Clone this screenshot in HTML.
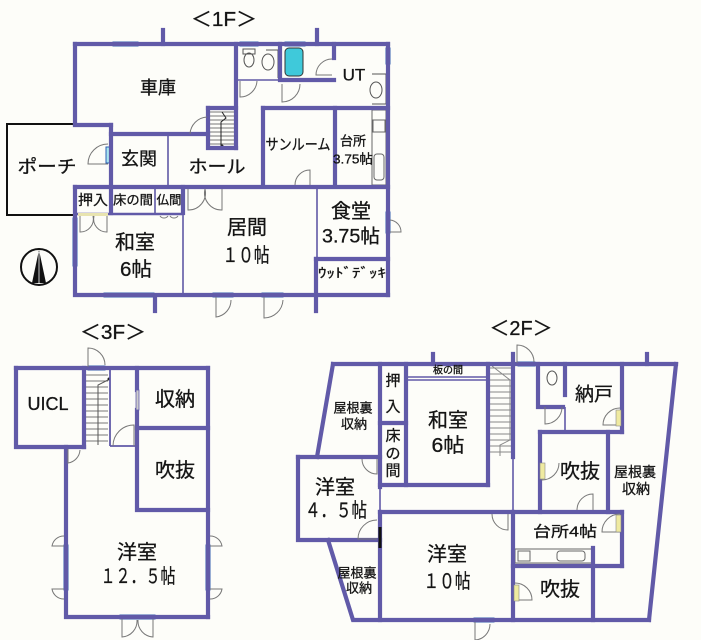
<!DOCTYPE html>
<html><head><meta charset="utf-8"><style>
html,body{margin:0;padding:0;background:#fdfdf9;}
svg{display:block;}
text{font-family:"Liberation Sans","Noto Sans CJK JP",sans-serif;fill:#151515;stroke:#151515;stroke-width:0.3;}
</style></head><body>
<svg width="701" height="640" viewBox="0 0 701 640" xmlns="http://www.w3.org/2000/svg">
<rect width="701" height="640" fill="#fdfdf9"/>

<!-- ========== 1F ========== -->
<path d="M73,124 H7 V215 H75" fill="none" stroke="#111" stroke-width="2"/>

<g fill="#a9e4ef" stroke="#2b5fb2" stroke-width="1">
<rect x="113" y="42" width="25" height="4"/>
<rect x="240" y="42" width="18" height="4"/>
<rect x="285" y="42" width="20" height="4"/>
<rect x="386" y="48" width="4" height="16"/>
<rect x="106" y="147" width="4" height="16"/>
<rect x="104" y="293" width="50" height="4"/>
<rect x="213" y="293" width="20" height="4"/>
<rect x="262" y="293" width="21" height="4"/>
<rect x="73" y="218" width="4" height="48"/>
<rect x="386" y="212" width="4" height="21"/>
</g>

<g stroke="#777" stroke-width="1">
<path d="M210,112 H234 M210,116 H234 M210,120 H234 M210,124 H234 M210,128 H234 M210,132 H234 M210,136 H234 M210,140 H234 M210,144 H234"/>
</g>
<path d="M222,112 L226,118 L221,122 V146" fill="none" stroke="#222" stroke-width="1"/>
<circle cx="222" cy="146" r="1.5" fill="#222"/>

<rect x="285" y="48" width="18" height="28" rx="4" fill="#3fc9da" stroke="#333" stroke-width="1"/>
<ellipse cx="249" cy="60" rx="5" ry="7" fill="none" stroke="#555" stroke-width="1"/>
<rect x="243" y="49" width="12" height="5" fill="none" stroke="#555" stroke-width="1"/>
<ellipse cx="268" cy="62" rx="6" ry="8" fill="none" stroke="#555" stroke-width="1"/>
<path d="M266,50 H278 V78" fill="none" stroke="#555" stroke-width="1"/>
<ellipse cx="376" cy="90" rx="6" ry="8" fill="none" stroke="#555" stroke-width="1"/>
<path d="M372,74 H386 V104 H372" fill="none" stroke="#555" stroke-width="1"/>
<rect x="372" y="110" width="14" height="75" fill="none" stroke="#666" stroke-width="1"/>
<rect x="373" y="120" width="12" height="12" fill="none" stroke="#666" stroke-width="1"/>
<rect x="374" y="154" width="10" height="26" rx="3" fill="none" stroke="#666" stroke-width="1"/>

<g stroke="#605aa6" stroke-width="1.6" fill="none">
<path d="M168,134 V187"/>
<path d="M236,80 H280"/>
<path d="M155,189 V213"/>
<path d="M183,214 V294"/>
<path d="M317,189 V258"/>
</g>

<g stroke="#615aa8" stroke-width="4.2" stroke-linecap="square" fill="none">
<path d="M75,44 H388"/>
<path d="M75,44 V124"/>
<path d="M75,125 H111"/>
<path d="M111,125 V213"/>
<path d="M111,134 H208"/>
<path d="M208,108 V148 H236"/>
<path d="M208,108 H236"/>
<path d="M236,44 V148"/>
<path d="M280,44 V80 H334"/>
<path d="M334,44 V58"/>
<path d="M263,108 H388"/>
<path d="M263,108 V186"/>
<path d="M335,108 V186"/>
<path d="M388,44 V295"/>
<path d="M75,187 H388"/>
<path d="M75,187 V295 H388"/>
<path d="M183,187 V213"/>
<path d="M316,259 V311"/>
<path d="M316,259 H388"/>
<path d="M155,297 V311"/>
<path d="M163,30 V44"/>
<path d="M317,30 V44"/>
</g>
<path d="M77,214 H182" stroke="#615aa8" stroke-width="2.5"/>
<rect x="78" y="213" width="30" height="3" fill="#e8e4b0"/>

<g stroke="#777" stroke-width="1" fill="none">
<path d="M108,164 H88 A20,20 0 0 1 108,144"/>
<path d="M190,134 A18,18 0 0 1 207,117"/>
<path d="M240,81 V97 A17,17 0 0 0 257,81"/>
<path d="M282,84 V102 A18,18 0 0 0 300,84"/>
<path d="M332,59 A16,16 0 0 0 316,75 H332"/>
<path d="M295,185 A15,15 0 0 1 310,170 V185"/>
<path d="M188,189 V210 A17,17 0 0 0 205,189"/>
<path d="M222,189 V210 A17,17 0 0 1 205,189"/>
<path d="M80,216 V232 A13,13 0 0 0 93,216"/>
<path d="M107,216 V232 A13,13 0 0 1 94,216"/>
<path d="M160,216 A5,5 0 0 0 168,216 M170,216 A5,5 0 0 0 178,216"/>
<path d="M216,297 V317 A17,17 0 0 0 231,300"/>
<path d="M264,297 V318 A19,19 0 0 0 283,300"/>
<path d="M390,220 A12,12 0 0 1 401,232 H390"/>
</g>

<circle cx="39" cy="267" r="18" fill="none" stroke="#111" stroke-width="2"/>
<path d="M39,250 L32,283 L46,283 Z" fill="#111"/>
<path d="M39,252 V283" stroke="#fff" stroke-width="0.8"/>

<text x="224" y="20" font-size="20" text-anchor="middle" dominant-baseline="central" textLength="66" lengthAdjust="spacingAndGlyphs">＜1F＞</text>
<text x="158" y="88" font-size="18" text-anchor="middle" dominant-baseline="central">車庫</text>
<text x="47" y="167" font-size="18" text-anchor="middle" dominant-baseline="central" textLength="59" lengthAdjust="spacingAndGlyphs">ポーチ</text>
<text x="139" y="159" font-size="18" text-anchor="middle" dominant-baseline="central">玄関</text>
<text x="217" y="167" font-size="18" text-anchor="middle" dominant-baseline="central" textLength="57" lengthAdjust="spacingAndGlyphs">ホール</text>
<text x="298" y="145" font-size="15" text-anchor="middle" dominant-baseline="central" textLength="65" lengthAdjust="spacingAndGlyphs">サンルーム</text>
<text x="353" y="141" font-size="13" text-anchor="middle" dominant-baseline="central">台所</text>
<text x="353" y="159" font-size="13" text-anchor="middle" dominant-baseline="central" textLength="40" lengthAdjust="spacingAndGlyphs">3.75帖</text>
<text x="354" y="75" font-size="17" text-anchor="middle" dominant-baseline="central">UT</text>
<text x="93" y="200" font-size="14" text-anchor="middle" dominant-baseline="central" textLength="30" lengthAdjust="spacingAndGlyphs">押入</text>
<text x="133" y="200" font-size="13" text-anchor="middle" dominant-baseline="central" textLength="40" lengthAdjust="spacingAndGlyphs">床の間</text>
<text x="169" y="200" font-size="12" text-anchor="middle" dominant-baseline="central" textLength="25" lengthAdjust="spacingAndGlyphs">仏間</text>
<text x="135" y="243" font-size="20" text-anchor="middle" dominant-baseline="central">和室</text>
<text x="136" y="270" font-size="20" text-anchor="middle" dominant-baseline="central" textLength="32" lengthAdjust="spacingAndGlyphs">6帖</text>
<text x="247" y="228" font-size="20" text-anchor="middle" dominant-baseline="central">居間</text>
<text x="246" y="256" font-size="20" text-anchor="middle" dominant-baseline="central" textLength="47" lengthAdjust="spacingAndGlyphs">１０帖</text>
<text x="351" y="212" font-size="20" text-anchor="middle" dominant-baseline="central">食堂</text>
<text x="351" y="237" font-size="19" text-anchor="middle" dominant-baseline="central" textLength="58" lengthAdjust="spacingAndGlyphs">3.75帖</text>
<text x="352" y="273" font-size="13" text-anchor="middle" dominant-baseline="central" textLength="68" lengthAdjust="spacingAndGlyphs">ｳｯﾄﾞﾃﾞｯｷ</text>

<!-- ========== 3F ========== -->
<g fill="#a9e4ef" stroke="#2b5fb2" stroke-width="1">
<rect x="88" y="366" width="17" height="4"/>
<rect x="64" y="545" width="4" height="45"/>
<rect x="206" y="545" width="4" height="45"/>
<rect x="120" y="615" width="35" height="4"/>
</g>
<g stroke="#777" stroke-width="1">
<path d="M86,375 H108 M86,381 H108 M86,387 H108 M86,393 H108 M86,399 H108 M86,405 H108 M86,411 H108 M86,417 H108 M86,423 H108 M86,429 H108 M86,435 H108 M86,441 H108"/>
</g>
<path d="M108,380 L98,385 V445" fill="none" stroke="#555" stroke-width="1"/>
<circle cx="109" cy="379" r="1.5" fill="#222"/>
<g stroke="#615aa8" stroke-width="1.8" fill="none">
<path d="M110,370 V446"/>
<path d="M110,446 H137"/>
</g>
<g stroke="#615aa8" stroke-width="4.2" stroke-linecap="square" fill="none">
<path d="M16,368 H208"/>
<path d="M16,368 V447 H84"/>
<path d="M66,447 V617 H208"/>
<path d="M208,368 V617"/>
<path d="M84,368 V447"/>
<path d="M137,368 V390"/>
<path d="M137,410 V510 H208"/>
<path d="M137,428 H208"/>
</g>
<rect x="136" y="390" width="3" height="20" fill="#ccc" stroke="#615aa8" stroke-width="0.8"/>
<g stroke="#777" stroke-width="1" fill="none">
<path d="M88,367 V348 A17,17 0 0 1 105,365"/>
<path d="M68,449 V463 A14,14 0 0 0 80,450"/>
<path d="M113,446 A21,21 0 0 1 134,425 V446"/>
<path d="M64,546 H52 A12,12 0 0 1 64,536"/>
<path d="M64,589 H52 A12,12 0 0 0 64,599"/>
<path d="M210,546 H222 A12,12 0 0 0 210,536"/>
<path d="M210,589 H222 A12,12 0 0 1 210,599"/>
<path d="M122,619 V637 A16,16 0 0 0 137,620"/>
<path d="M153,619 V637 A16,16 0 0 1 138,620"/>
</g>
<text x="113" y="333" font-size="20" text-anchor="middle" dominant-baseline="central" textLength="66" lengthAdjust="spacingAndGlyphs">＜3F＞</text>
<text x="48" y="404" font-size="18" text-anchor="middle" dominant-baseline="central">UICL</text>
<text x="175" y="400" font-size="20" text-anchor="middle" dominant-baseline="central">収納</text>
<text x="175" y="471" font-size="20" text-anchor="middle" dominant-baseline="central">吹抜</text>
<text x="137" y="553" font-size="20" text-anchor="middle" dominant-baseline="central">洋室</text>
<text x="138" y="577" font-size="20" text-anchor="middle" dominant-baseline="central" textLength="75" lengthAdjust="spacingAndGlyphs">１２．５帖</text>

<!-- ========== 2F ========== -->
<g fill="#a9e4ef" stroke="#2b5fb2" stroke-width="1">
<rect x="518" y="362" width="17" height="4"/>
<rect x="474" y="618" width="20" height="4"/>
</g>
<path d="M494,620 H512 M518,620 H552" stroke="#2b5fb2" stroke-width="2"/>
<g stroke="#888" stroke-width="1">
<path d="M490,368 H511 M490,374 H511 M490,380 H511 M490,386 H511 M490,392 H511 M490,398 H511 M490,404 H511 M490,410 H511 M490,416 H511 M490,422 H511 M490,428 H511 M490,434 H511 M490,440 H511 M490,446 H511 M490,452 H511"/>
<path d="M492,366 L510,380 V440 L500,445 V456" fill="none"/>
</g>
<ellipse cx="552" cy="378" rx="5" ry="7" fill="none" stroke="#555" stroke-width="1"/>
<rect x="515" y="549" width="77" height="14" fill="none" stroke="#666" stroke-width="1"/>
<rect x="518" y="551" width="12" height="10" fill="none" stroke="#666" stroke-width="1"/>
<rect x="557" y="551" width="28" height="10" rx="3" fill="none" stroke="#666" stroke-width="1"/>

<g stroke="#615aa8" stroke-width="1.6" fill="none">
<path d="M407,377 H487 M407,380 H487"/>
<path d="M380,487 V510"/>
<path d="M513,457 V512"/>
<path d="M565,407 V432"/>
<path d="M407,485 H487"/>
</g>
<g stroke="#615aa8" stroke-width="4.2" stroke-linecap="square" fill="none">
<path d="M333,364 H676"/>
<path d="M333,364 L317,457"/>
<path d="M298,457 H380"/>
<path d="M298,457 V540 H380"/>
<path d="M328,540 L353,620 H649"/>
<path d="M676,364 L649,620"/>
<path d="M380,364 V487"/>
<path d="M380,512 V620"/>
<path d="M406,364 V485"/>
<path d="M380,423 H406"/>
<path d="M380,485 H488"/>
<path d="M488,364 V485"/>
<path d="M513,354 V457"/>
<path d="M513,512 V620"/>
<path d="M380,512 H622"/>
<path d="M538,364 V407 H563"/>
<path d="M565,364 V395"/>
<path d="M540,432 H622"/>
<path d="M540,432 V512"/>
<path d="M622,364 V432"/>
<path d="M608,432 V512"/>
<path d="M622,512 V566"/>
<path d="M513,566 H622"/>
<path d="M593,548 V620"/>
<path d="M433,354 V364"/>
<path d="M647,354 V364"/>
</g>
<path d="M380,527 V548" stroke="#111" stroke-width="3"/>
<g stroke="#777" stroke-width="1" fill="none">
<path d="M377,459 V474 A15,15 0 0 1 362,459"/>
<path d="M377,539 H358 A19,19 0 0 1 377,520"/>
<path d="M517,363 V345 A17,17 0 0 1 534,362"/>
<path d="M545,407 V424 A17,17 0 0 0 562,407"/>
<path d="M620,425 H603 A17,17 0 0 1 620,408"/>
<path d="M542,463 V480 A17,17 0 0 0 559,463"/>
<path d="M577,510 A16,16 0 0 1 593,494 V510"/>
<path d="M620,532 H602 A18,18 0 0 1 620,514"/>
<path d="M508,514 V530 A16,16 0 0 1 492,514"/>
<path d="M515,583 A17,17 0 0 1 532,600 H515"/>
<path d="M475,622 V640 A16,16 0 0 0 490,624"/>
</g>
<rect x="616" y="410" width="5" height="16" fill="#efeaa0" stroke="#888" stroke-width="0.6"/>
<rect x="616" y="515" width="5" height="17" fill="#efeaa0" stroke="#888" stroke-width="0.6"/>
<rect x="540" y="463" width="5" height="16" fill="#efeaa0" stroke="#888" stroke-width="0.6"/>
<rect x="514" y="585" width="5" height="16" fill="#efeaa0" stroke="#888" stroke-width="0.6"/>

<text x="521" y="329" font-size="20" text-anchor="middle" dominant-baseline="central" textLength="63" lengthAdjust="spacingAndGlyphs">＜2F＞</text>
<text x="353" y="408" font-size="13" text-anchor="middle" dominant-baseline="central">屋根裏</text>
<text x="354" y="424" font-size="13" text-anchor="middle" dominant-baseline="central">収納</text>
<text x="393" y="381" font-size="15" text-anchor="middle" dominant-baseline="central">押</text>
<text x="393" y="407" font-size="15" text-anchor="middle" dominant-baseline="central">入</text>
<text x="393" y="436" font-size="15" text-anchor="middle" dominant-baseline="central">床</text>
<text x="393" y="454" font-size="15" text-anchor="middle" dominant-baseline="central">の</text>
<text x="393" y="471" font-size="15" text-anchor="middle" dominant-baseline="central">間</text>
<text x="448" y="371" font-size="10" text-anchor="middle" dominant-baseline="central">板の間</text>
<text x="448" y="421" font-size="20" text-anchor="middle" dominant-baseline="central">和室</text>
<text x="448" y="446" font-size="20" text-anchor="middle" dominant-baseline="central" textLength="33" lengthAdjust="spacingAndGlyphs">6帖</text>
<text x="335" y="488" font-size="20" text-anchor="middle" dominant-baseline="central">洋室</text>
<text x="336" y="511" font-size="20" text-anchor="middle" dominant-baseline="central" textLength="62" lengthAdjust="spacingAndGlyphs">４．５帖</text>
<text x="357" y="573" font-size="13" text-anchor="middle" dominant-baseline="central">屋根裏</text>
<text x="359" y="588" font-size="13" text-anchor="middle" dominant-baseline="central">収納</text>
<text x="447" y="555" font-size="20" text-anchor="middle" dominant-baseline="central">洋室</text>
<text x="447" y="582" font-size="20" text-anchor="middle" dominant-baseline="central" textLength="47" lengthAdjust="spacingAndGlyphs">１０帖</text>
<text x="594" y="395" font-size="19" text-anchor="middle" dominant-baseline="central">納戸</text>
<text x="580" y="472" font-size="20" text-anchor="middle" dominant-baseline="central">吹抜</text>
<text x="635" y="472" font-size="14" text-anchor="middle" dominant-baseline="central">屋根裏</text>
<text x="636" y="489" font-size="14" text-anchor="middle" dominant-baseline="central">収納</text>
<text x="565" y="532" font-size="15" text-anchor="middle" dominant-baseline="central" textLength="64" lengthAdjust="spacingAndGlyphs">台所4帖</text>
<text x="560" y="590" font-size="20" text-anchor="middle" dominant-baseline="central">吹抜</text>
</svg>
</body></html>
